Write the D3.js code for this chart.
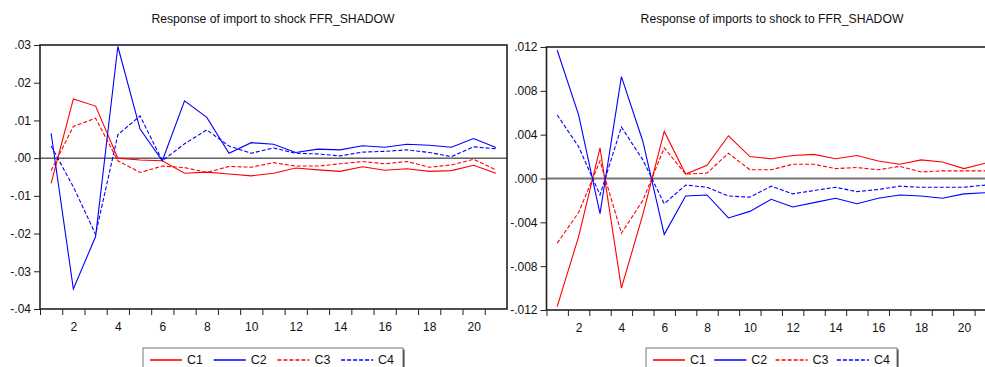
<!DOCTYPE html>
<html>
<head>
<meta charset="utf-8">
<script src="https://cdn.jsdelivr.net/npm/d3@7"></script>
<style>
  body { margin: 0; background: #fff; }
  svg { display: block; font-family: "Liberation Sans", Arial, sans-serif; }
</style>
</head>
<body>
<div class="chart"></div>
<script>
const periods = d3.range(1, 22)
const seriesNames = ["C1", "C2", "C3", "C4"]

// left panel: Response of import to shock FFR_SHADOW
const leftC1 = [-0.0067, 0.0157, 0.0138, 0.0000, -0.0005, -0.0007, -0.0040, -0.0037, -0.0042, -0.0047, -0.0040,
    -0.0026, -0.0031, -0.0035, -0.0023, -0.0032, -0.0028, -0.0035, -0.0033, -0.0019, -0.0040]
const leftC2 = [0.0066, -0.0347, -0.0208, 0.0296, 0.0077, -0.0007, 0.0152, 0.0108, 0.0013, 0.0041, 0.0037,
    0.0015, 0.0024, 0.0022, 0.0033, 0.0029, 0.0037, 0.0034, 0.0029, 0.0052, 0.0028]
const leftC3 = [-0.0033, 0.0084, 0.0106, -0.0007, -0.0038, -0.0021, -0.0025, -0.0038, -0.0022, -0.0024, -0.0012,
    -0.0021, -0.0021, -0.0015, -0.0009, -0.0015, -0.0009, -0.0024, -0.0018, -0.0003, -0.0031]
const leftC4 = [0.0032, -0.0076, -0.0202, 0.0062, 0.0112, -0.0007, 0.0038, 0.0075, 0.0032, 0.0013, 0.0027,
    0.0013, 0.0011, 0.0006, 0.0016, 0.0018, 0.0022, 0.0015, 0.0004, 0.0030, 0.0025]
const leftTicks = [0.03, 0.02, 0.01, 0.00, -0.01, -0.02, -0.03, -0.04]
const leftTickLabels = [".03", ".02", ".01", ".00", "-.01", "-.02", "-.03", "-.04"]

// right panel: Response of imports to shock to FFR_SHADOW
const rightC1 = [-0.0117, -0.0053, 0.0028, -0.0100, -0.0033, 0.0043, 0.0004, 0.0012, 0.0039, 0.0020, 0.0018,
    0.0021, 0.0022, 0.0018, 0.0021, 0.0016, 0.0013, 0.0017, 0.0015, 0.0009, 0.0014]
const rightC2 = [0.0117, 0.0058, -0.0032, 0.0093, 0.0034, -0.0051, -0.0016, -0.0015, -0.0036, -0.0030, -0.0019,
    -0.0026, -0.0022, -0.0018, -0.0023, -0.0018, -0.0015, -0.0016, -0.0018, -0.0014, -0.0013]
const rightC3 = [-0.0059, -0.0031, 0.0016, -0.0050, -0.0020, 0.0028, 0.0004, 0.0005, 0.0023, 0.0008, 0.0008,
    0.0013, 0.0013, 0.0009, 0.0010, 0.0008, 0.0011, 0.0006, 0.0007, 0.0007, 0.0007]
const rightC4 = [0.0058, 0.0029, -0.0015, 0.0047, 0.0017, -0.0023, -0.0006, -0.0008, -0.0016, -0.0017, -0.0007,
    -0.0014, -0.0011, -0.0008, -0.0012, -0.0010, -0.0007, -0.0008, -0.0008, -0.0008, -0.0006]
const rightTicks = [0.012, 0.008, 0.004, 0.000, -0.004, -0.008, -0.012]
const rightTickLabels = [".012", ".008", ".004", ".000", "-.004", "-.008", "-.012"]

const xTickLabels = [2, 4, 6, 8, 10, 12, 14, 16, 18, 20]

const width = 985
const height = 367
const colors = ["#ff0000", "#0000ff", "#ff0000", "#0000ff"]
const dashes = ["none", "none", "4,2", "4,2"]

const svg = d3.select(".chart")
    .append("svg")
    .attr("width", width)
    .attr("height", height)

const drawPanel = (p) => {
    const x = d3.scaleLinear()
        .domain([0.5, 21.5])
        .range([p.left, p.right])
    const y = d3.scaleLinear()
        .domain(p.domain)
        .range([p.bottom, p.top])

    const g = svg.append("g")

    // title
    g.append("text")
        .attr("x", p.titleX)
        .attr("y", 23)
        .attr("text-anchor", "middle")
        .attr("font-size", 12.2)
        .attr("fill", "#111")
        .text(p.title)

    // zero line
    g.append("line")
        .attr("x1", p.left).attr("x2", p.right)
        .attr("y1", y(0)).attr("y2", y(0))
        .attr("stroke", p.zeroColor)
        .attr("stroke-width", p.zeroWidth)

    // series
    const line = d3.line()
        .x((v, i) => x(periods[i]))
        .y(v => y(v))
    p.series.forEach((s, k) => {
        g.append("path")
            .attr("d", line(s))
            .attr("fill", "none")
            .style("stroke", colors[k])
            .style("stroke-width", 1.1)
            .style("stroke-dasharray", dashes[k])
    })

    // frame
    g.append("rect")
        .attr("x", p.left).attr("y", p.top)
        .attr("width", p.right - p.left)
        .attr("height", p.bottom - p.top)
        .attr("fill", "none")
        .attr("stroke", "#222")
        .attr("stroke-width", 1.6)

    // y axis
    const yAxis = d3.axisLeft(y)
        .tickValues(p.ticks)
        .tickFormat((d, i) => p.tickLabels[i])
        .tickSize(6)
        .tickPadding(3)
    g.append("g")
        .attr("transform", `translate(${p.left},0)`)
        .call(yAxis)
        .call(a => a.select(".domain").remove())
        .call(a => a.selectAll("text").attr("font-size", 12).attr("fill", "#111").attr("font-family", "Liberation Sans, Arial, sans-serif"))
        .call(a => a.selectAll("line").attr("stroke", "#222"))

    // x axis: ticks between periods, labels at even periods
    const xAxisTicks = d3.axisBottom(x)
        .tickValues(d3.range(0.5, 21.5, 1))
        .tickFormat("")
        .tickSize(6)
    g.append("g")
        .attr("transform", `translate(0,${p.bottom})`)
        .call(xAxisTicks)
        .call(a => a.select(".domain").remove())
        .call(a => a.selectAll("line").attr("stroke", "#222"))

    const xAxisLabels = d3.axisBottom(x)
        .tickValues(xTickLabels)
        .tickSize(0)
        .tickPadding(13)
    g.append("g")
        .attr("transform", `translate(0,${p.bottom})`)
        .call(xAxisLabels)
        .call(a => a.select(".domain").remove())
        .call(a => a.selectAll("text").attr("font-size", 12).attr("fill", "#111").attr("font-family", "Liberation Sans, Arial, sans-serif"))

    // legend
    const lg = svg.append("g").attr("class", "legend")
    lg.append("rect")
        .attr("x", p.legendX + 1.5).attr("y", 349.5)
        .attr("width", p.legendW).attr("height", 30)
        .attr("fill", "#333")
    lg.append("rect")
        .attr("x", p.legendX).attr("y", 348)
        .attr("width", p.legendW).attr("height", 30)
        .attr("fill", "#fff")
        .attr("stroke", "#777")
        .attr("stroke-width", 1)
    seriesNames.forEach((name, k) => {
        const lx = p.legendX + 7 + k * p.legendStep
        lg.append("path")
            .attr("d", `M${lx},360H${lx + 32}`)
            .attr("fill", "none")
            .style("stroke", colors[k])
            .style("stroke-width", 1.6)
            .style("stroke-dasharray", dashes[k])
        lg.append("text")
            .attr("x", lx + 37)
            .attr("y", 364)
            .attr("font-size", 12.5)
            .attr("fill", "#111")
            .text(name)
    })
}

drawPanel({
    title: "Response of import to shock FFR_SHADOW",
    titleX: 273,
    left: 40, right: 507, top: 45, bottom: 309,
    domain: [-0.04, 0.03],
    ticks: leftTicks, tickLabels: leftTickLabels,
    series: [leftC1, leftC2, leftC3, leftC4],
    zeroColor: "#111", zeroWidth: 1,
    legendX: 143, legendW: 260, legendStep: 63.7
})

drawPanel({
    title: "Response of imports to shock to FFR_SHADOW",
    titleX: 772,
    left: 546.5, right: 996, top: 47, bottom: 310,
    domain: [-0.012, 0.012],
    ticks: rightTicks, tickLabels: rightTickLabels,
    series: [rightC1, rightC2, rightC3, rightC4],
    zeroColor: "#777", zeroWidth: 2,
    legendX: 646, legendW: 251, legendStep: 61.3
})
</script>
</body>
</html>
